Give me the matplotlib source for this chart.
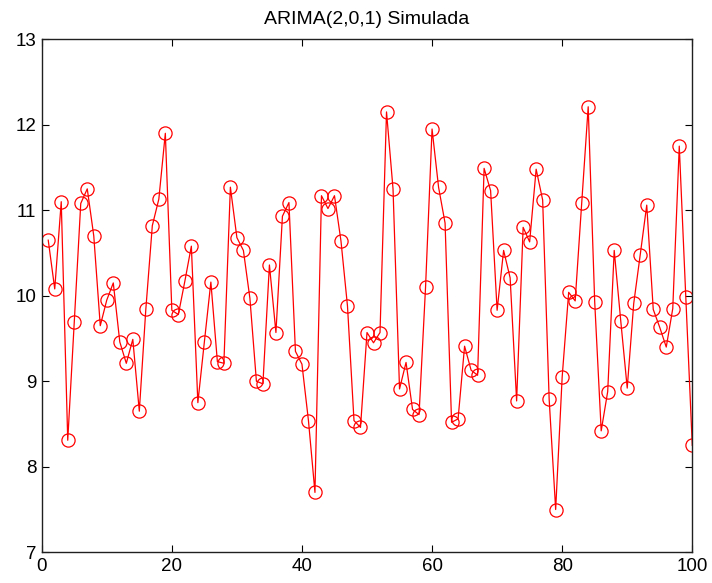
import matplotlib
matplotlib.use('Agg')
import matplotlib.pyplot as plt
import numpy as np

# simulated ARIMA(2,0,1) series, t = 1..100
t = np.arange(1, 101)
y = [10.65, 10.08, 11.10, 8.31, 9.69, 11.08, 11.25, 10.70, 9.65, 9.95,
     10.15, 9.46, 9.21, 9.49, 8.65, 9.84, 10.82, 11.13, 11.90, 9.83,
     9.78, 10.17, 10.58, 8.75, 9.46, 10.16, 9.23, 9.21, 11.27, 10.68,
     10.53, 9.97, 9.00, 8.97, 10.36, 9.57, 10.93, 11.09, 9.35, 9.20,
     8.54, 7.70, 11.17, 11.02, 11.17, 10.64, 9.88, 8.54, 8.46, 9.57,
     9.45, 9.57, 12.15, 11.25, 8.91, 9.22, 8.67, 8.61, 10.10, 11.95,
     11.27, 10.85, 8.52, 8.56, 9.41, 9.13, 9.07, 11.49, 11.23, 9.83,
     10.53, 10.21, 8.77, 10.80, 10.63, 11.48, 11.12, 8.79, 7.50, 9.05,
     10.04, 9.94, 11.08, 12.21, 9.93, 8.42, 8.88, 10.53, 9.71, 8.92,
     9.91, 10.48, 11.06, 9.84, 9.63, 9.40, 9.85, 11.75, 9.99, 8.25]

xticks = [0, 20, 40, 60, 80, 100]
yticks = [7, 8, 9, 10, 11, 12, 13]

plt.rcParams['font.family'] = ['Liberation Sans', 'DejaVu Sans']

fig = plt.figure(figsize=(7.12, 5.83), dpi=100)
ax = fig.add_axes([0.0586, 0.0527, 0.9137, 0.880])
ax.plot(t, y, color='red', lw=0.9, marker='o', markersize=9.5,
        markerfacecolor='none', markeredgecolor='red', markeredgewidth=0.9)

ax.set_xlim(0, 100)
ax.set_ylim(7, 13)
ax.set_xticks(xticks)
ax.set_yticks(yticks)
ax.tick_params(direction='in', length=5, width=0.8, labelsize=13.5,
               top=True, right=True, pad=4)
for s in ax.spines.values():
    s.set_linewidth(1.0)
    s.set_color('#202020')
ax.set_title('ARIMA(2,0,1) Simulada', fontsize=14, pad=11)

fig.savefig('out.png', dpi=100)
